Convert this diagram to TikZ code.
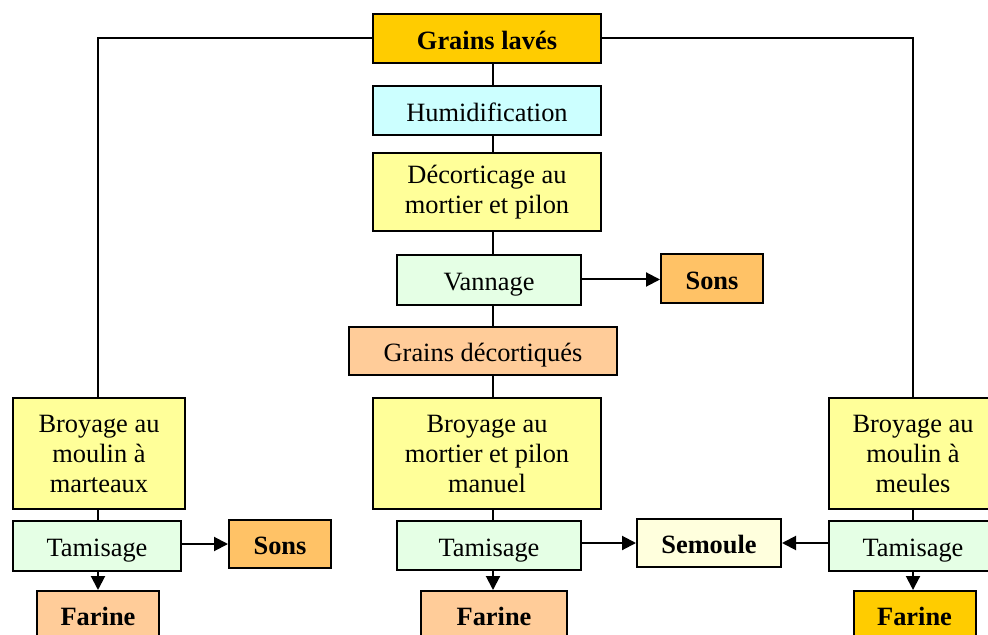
\documentclass[tikz,border=0pt]{standalone}
\usepackage{fontspec}
\setmainfont{Liberation Serif}
\usetikzlibrary{arrows.meta}
\definecolor{cGold}{HTML}{FFCC00}
\definecolor{cCyan}{HTML}{CCFFFF}
\definecolor{cYellow}{HTML}{FFFF99}
\definecolor{cGreen}{HTML}{E5FFE5}
\definecolor{cOrange}{HTML}{FFC266}
\definecolor{cPeach}{HTML}{FFCC99}
\definecolor{cCream}{HTML}{FFFFDD}
\begin{document}
\begin{tikzpicture}[x=0.5pt,y=-0.5pt,
  box/.style={draw=black, line width=1pt, inner sep=0pt, align=center,
    font=\fontsize{13.2}{15}\selectfont},
  one/.style={box, text height=11pt, text depth=0.4pt},
  multi/.style={box, execute at begin node={\rule{0pt}{10.7pt}}},
  bbox/.style={one, font=\fontsize{13.2}{15}\selectfont\bfseries},
  link/.style={line width=1pt},
  arrow/.style={line width=1pt, -{Triangle[length=7pt,width=7pt]}}]
\useasboundingbox (0,0) rectangle (988,635);

% central chain
\node[bbox, fill=cGold, minimum width=114pt, minimum height=24.5pt] (gl) at (487,38.5) {Grains lavés};
\node[one, fill=cCyan, minimum width=114pt, minimum height=24.5pt] (hum) at (487,110.5) {Humidification};
\node[multi, fill=cYellow, minimum width=114pt, minimum height=39pt] (dec) at (487,192) {Décorticage au\\mortier et pilon};
\node[one, fill=cGreen, minimum width=92pt, minimum height=25pt] (van) at (489,280) {Vannage};
\node[bbox, fill=cOrange, minimum width=51pt, minimum height=24.5pt] (sonsA) at (712,278.5) {Sons};
\node[one, fill=cPeach, minimum width=134pt, minimum height=24pt] (gd) at (483,351) {Grains décortiqués};
\node[multi, fill=cYellow, minimum width=114pt, minimum height=55.5pt] (bc) at (487,453.5) {Broyage au\\mortier et pilon\\manuel};
\node[one, fill=cGreen, minimum width=92pt, minimum height=24.5pt] (tc) at (489,545.5) {Tamisage};
\node[bbox, fill=cCream, minimum width=72pt, minimum height=24pt] (sem) at (709,543) {Semoule};
\node[bbox, fill=cPeach, minimum width=73pt, minimum height=24pt] (fc) at (494,615) {Farine};

% left branch
\node[multi, fill=cYellow, minimum width=86pt, minimum height=55.5pt] (bl) at (99,453.5) {Broyage au\\moulin à\\marteaux};
\node[one, fill=cGreen, minimum width=84pt, minimum height=25pt] (tl) at (97,546) {Tamisage};
\node[bbox, fill=cOrange, minimum width=51pt, minimum height=24pt] (sonsB) at (280,544) {Sons};
\node[bbox, fill=cPeach, minimum width=61pt, minimum height=24pt] (fl) at (98,615) {Farine};

% right branch
\node[multi, fill=cYellow, minimum width=84pt, minimum height=55.5pt] (br) at (913,453.5) {Broyage au\\moulin à\\meules};
\node[one, fill=cGreen, minimum width=84pt, minimum height=25pt] (tr) at (913,546) {Tamisage};
\node[bbox, fill=cGold, minimum width=61pt, minimum height=24pt] (fr) at (914.5,615) {Farine};

% guide columns for the vertical links
\coordinate (cx) at (493,0);
\coordinate (lx) at (98,0);
\coordinate (rx) at (913,0);

% central links
\draw[link] (gl.south -| cx) -- (hum.north -| cx);
\draw[link] (hum.south -| cx) -- (dec.north -| cx);
\draw[link] (dec.south -| cx) -- (van.north -| cx);
\draw[link] (van.south -| cx) -- (gd.north -| cx);
\draw[link] (gd.south -| cx) -- (bc.north -| cx);
\draw[link] (bc.south -| cx) -- (tc.north -| cx);
\draw[arrow] (tc.south -| cx) -- (fc.north -| cx);
\draw[arrow] (van.east |- 0,279.5) -- (sonsA.west |- 0,279.5);
\draw[arrow] (tc.east |- sem.west) -- (sem.west);

% left links
\draw[link] (gl.west) -| (bl.north -| lx);
\draw[link] (bl.south -| lx) -- (tl.north -| lx);
\draw[arrow] (tl.south -| lx) -- (fl.north -| lx);
\draw[arrow] (tl.east |- sonsB.west) -- (sonsB.west);

% right links
\draw[link] (gl.east) -| (br.north -| rx);
\draw[link] (br.south -| rx) -- (tr.north -| rx);
\draw[arrow] (tr.south -| rx) -- (fr.north -| rx);
\draw[arrow] (tr.west |- sem.east) -- (sem.east);
\end{tikzpicture}
\end{document}
